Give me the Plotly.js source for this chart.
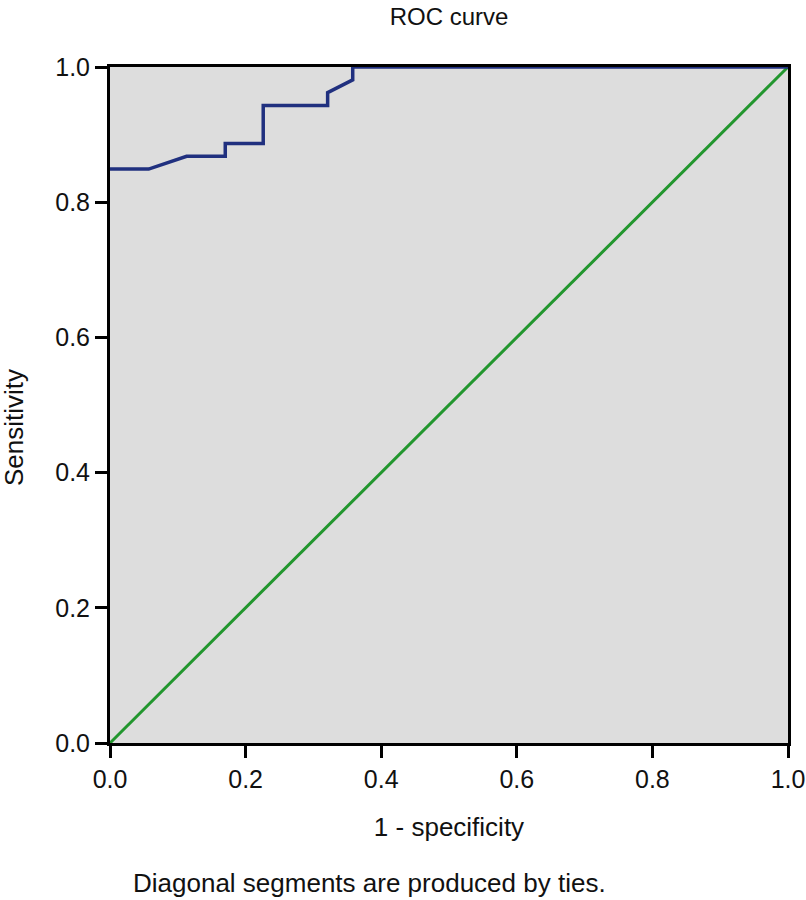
<!DOCTYPE html>
<html>
<head>
<meta charset="utf-8">
<script src="https://cdn.plot.ly/plotly-3.0.1.min.js"></script>
<style>
  body { margin: 0; background: #fff; }
  #roc { width: 806px; height: 900px; }
</style>
</head>
<body>
<div id="roc"></div>
<script>
// ROC curve steps (1 - specificity, sensitivity)
var fpr = [0, 0.057, 0.113, 0.170, 0.170, 0.226, 0.226, 0.321, 0.321, 0.358, 0.358, 1];
var tpr = [0.849, 0.849, 0.868, 0.868, 0.887, 0.887, 0.943, 0.943, 0.962, 0.981, 1, 1];

// reference line
var refX = [0, 1];
var refY = [0, 1];

var curve = {
    x: fpr,
    y: tpr,
    mode: "lines",
    type: "scatter",
    line: { color: "#20307f", width: 3.5 },
    hoverinfo: "x+y"
};

var diagonal = {
    x: refX,
    y: refY,
    mode: "lines",
    type: "scatter",
    line: { color: "#22962e", width: 3 },
    hoverinfo: "skip"
};

var font = { family: "Liberation Sans, Arial, sans-serif", color: "#111" };

var layout = {
    width: 806,
    height: 900,
    showlegend: false,
    paper_bgcolor: "#ffffff",
    plot_bgcolor: "#dddddd",
    margin: { l: 110, r: 18, t: 67, b: 157 },
    font: font,
    title: {
        text: "ROC curve",
        font: { family: font.family, size: 24, color: "#111" },
        x: 0.5,
        xref: "paper",
        y: 1 - 17 / 900,
        yref: "container",
        yanchor: "middle"
    },
    xaxis: {
        range: [0, 1],
        dtick: 0.2,
        tick0: 0,
        tickformat: ".1f",
        showgrid: false,
        zeroline: false,
        showline: true,
        linecolor: "#000",
        linewidth: 3,
        mirror: true,
        ticks: "outside",
        ticklen: 12,
        tickwidth: 3,
        tickcolor: "#000",
        tickfont: { family: font.family, size: 25, color: "#111" },
        title: {
            text: "1 - specificity",
            font: { family: font.family, size: 26, color: "#111" },
            standoff: 26
        }
    },
    yaxis: {
        range: [0, 1],
        dtick: 0.2,
        tick0: 0,
        tickformat: ".1f",
        showgrid: false,
        zeroline: false,
        showline: true,
        linecolor: "#000",
        linewidth: 3,
        mirror: true,
        ticks: "outside",
        ticklen: 12,
        tickwidth: 3,
        tickcolor: "#000",
        tickfont: { family: font.family, size: 25, color: "#111" }
    },
    annotations: [
        {
            text: "Sensitivity",
            textangle: -90,
            xref: "paper", yref: "paper",
            x: -96 / 678, y: (743 - 428) / 676,
            xanchor: "center", yanchor: "middle",
            showarrow: false,
            font: { family: font.family, size: 26, color: "#111" }
        },
        {
            text: "Diagonal segments are produced by ties.",
            xref: "paper", yref: "paper",
            x: (369 - 110) / 678, y: -(883 - 743) / 676,
            xanchor: "center", yanchor: "middle",
            showarrow: false,
            font: { family: font.family, size: 26, color: "#111" }
        }
    ]
};

Plotly.newPlot("roc", [diagonal, curve], layout, { displayModeBar: false, staticPlot: true });
</script>
</body>
</html>
